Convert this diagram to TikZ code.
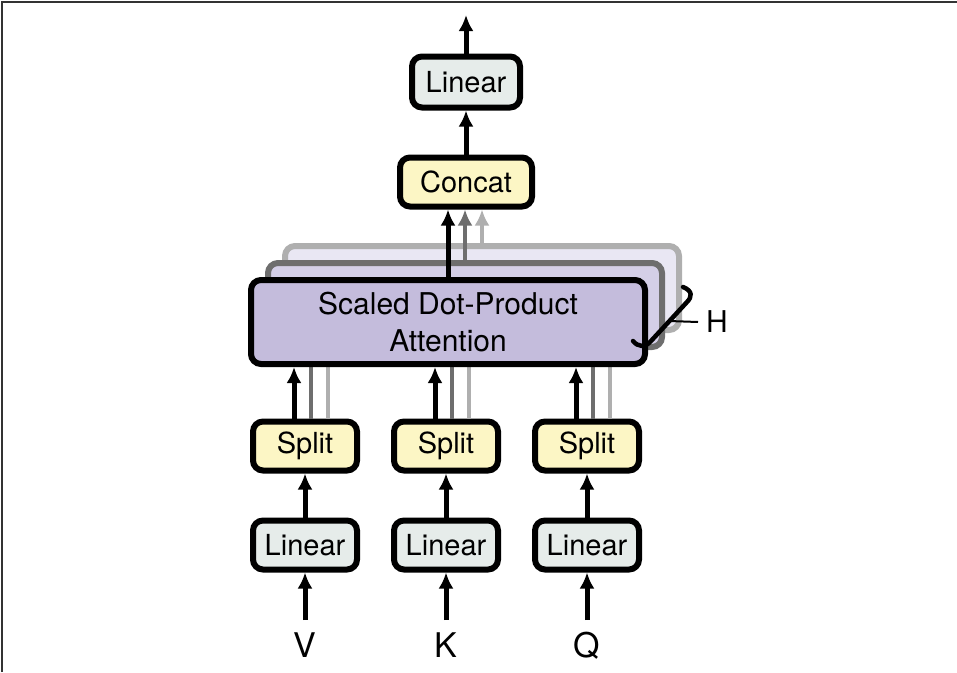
\documentclass[tikz,border=0pt]{standalone}
\usepackage{fontspec}
\setmainfont{TeX Gyre Heros}
\usetikzlibrary{arrows.meta}
\definecolor{linfill}{RGB}{230,236,234}
\definecolor{splitfill}{RGB}{252,246,197}
\definecolor{attfill}{RGB}{196,188,220}
\definecolor{attfillb}{RGB}{212,207,231}
\definecolor{attfillc}{RGB}{233,231,243}
\definecolor{darkline}{RGB}{110,110,110}
\definecolor{lightline}{RGB}{175,175,175}
\begin{document}
\begin{tikzpicture}[x=1pt, y=-1pt,
    box/.style={draw, line width=6pt, rounded corners=10pt, inner sep=0pt, font=\fontsize{29}{34}\selectfont},
    linbox/.style={box, fill=linfill, minimum width=104pt, minimum height=49pt},
    splitbox/.style={box, fill=splitfill, minimum width=104pt, minimum height=49pt},
    attbox/.style={box, minimum width=394pt, minimum height=84pt},
    arr/.style={-{Latex[length=16pt,width=15pt]}, line width=5pt},
    inlabel/.style={font=\fontsize{34}{40}\selectfont, text height=24pt, text depth=0pt, inner sep=0pt, outer sep=13pt}]
    \useasboundingbox (0,0) rectangle (957,672);
    \draw[line width=2pt, black!80] (2,672) -- (2,2) -- (957,2);
    % output part
    \node[linbox, minimum width=108pt, minimum height=51pt] (outlin) at (466,82) {Linear};
    \node[splitbox, minimum width=132pt] (concat) at (466,182) {Concat};
    \coordinate (outtop) at (466,15);
    \draw[arr] (concat) -- (outlin);
    \draw[arr] (outlin) -- (outtop);
    % the heads behind
    \node[attbox, draw=lightline, fill=attfillc] (att3) at (482,288) {};
    \node[attbox, draw=darkline, fill=attfillb] (att2) at (465,305) {};
    \draw[arr, lightline, line width=4.5pt] (att3.north) -- (att3.north |- concat.south);
    \draw[arr, darkline, line width=4.5pt] (att2.north) -- (att2.north |- concat.south);
    % V, K, Q columns
    \foreach \n/\x in {V/305, K/446, Q/587} {
        \node[linbox] (lin\n) at (\x,545) {Linear};
        \node[splitbox] (split\n) at (\x,446) {Split};
        \node[inlabel] (in\n) at (\x,645) {\n};
        \draw[arr] (in\n) -- (lin\n);
        \draw[arr] (lin\n) -- (split\n);
        \draw[lightline, line width=4.5pt] ([xshift=23pt]split\n.north) -- ([xshift=23pt]split\n.north |- att3.south);
        \draw[darkline, line width=4.5pt] ([xshift=6pt]split\n.north) -- ([xshift=6pt]split\n.north |- att2.south);
    }
    \node[attbox, fill=attfill, align=center, font=\fontsize{30}{37}\selectfont] (att1) at (448,322) {Scaled Dot-Product\\Attention};
    \foreach \n in {V, K, Q}
        \draw[arr] ([xshift=-11pt]split\n.north) -- ([xshift=-11pt]split\n.north |- att1.south);
    \draw[arr] (att1.north) -- (att1.north |- concat.south);
    % brace for the number of heads
    \draw[line width=4.5pt, line cap=round] (683,287) .. controls (693,291) and (692,297) .. (687,302) -- (651,341) .. controls (645,348) and (638,347) .. (633,341);
    \coordinate (brmid) at (669,321);
    \node[anchor=west, inner sep=0pt, font=\fontsize{30}{36}\selectfont] (heads) at (706,322) {H};
    \draw[line width=2pt] (brmid) -- ([xshift=-8pt]heads.west);
\end{tikzpicture}
\end{document}
